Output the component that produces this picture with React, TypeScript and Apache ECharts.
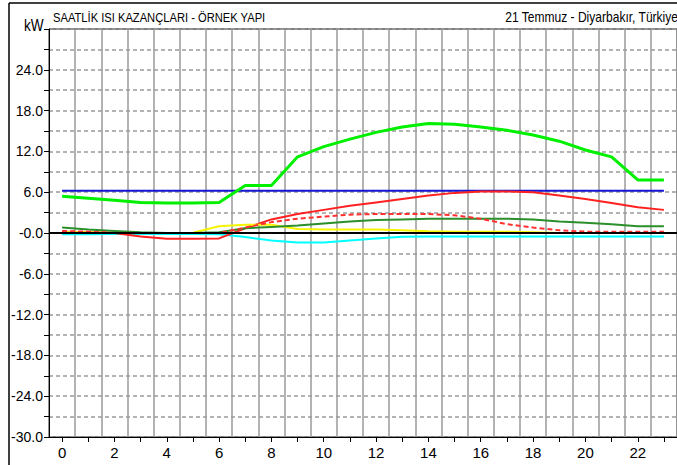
import { useEffect, useRef } from 'react';
import * as echarts from 'echarts';

const hours = ['0', '1', '2', '3', '4', '5', '6', '7', '8', '9', '10', '11', '12', '13', '14', '15', '16', '17', '18', '19', '20', '21', '22', '23'];

const seriesLime = [5.4, 5.1, 4.8, 4.5, 4.4, 4.4, 4.5, 7.0, 7.0, 11.2, 12.7, 13.8, 14.8, 15.6, 16.1, 16.0, 15.6, 15.1, 14.4, 13.5, 12.2, 11.2, 7.8, 7.8];
const seriesBlue = [6.2, 6.2, 6.2, 6.2, 6.2, 6.2, 6.2, 6.2, 6.2, 6.2, 6.2, 6.2, 6.2, 6.2, 6.2, 6.2, 6.2, 6.2, 6.2, 6.2, 6.2, 6.2, 6.2, 6.2];
const seriesRed = [0.2, 0.1, 0.0, -0.5, -0.85, -0.85, -0.8, 0.7, 2.0, 2.8, 3.4, 4.0, 4.5, 5.0, 5.5, 5.9, 6.1, 6.1, 6.0, 5.5, 5.0, 4.4, 3.8, 3.4];
const seriesRedDashed = [0.3, 0.2, 0.0, 0.0, 0.0, 0.0, 0.0, 0.8, 1.6, 2.1, 2.4, 2.7, 2.8, 2.8, 2.8, 2.6, 2.1, 1.3, 0.8, 0.4, 0.2, 0.2, 0.2, 0.2];
const seriesDarkGreen = [0.8, 0.5, 0.3, 0.1, 0.0, 0.0, 0.1, 0.7, 0.9, 1.1, 1.4, 1.7, 1.9, 2.0, 2.1, 2.1, 2.1, 2.1, 2.0, 1.7, 1.5, 1.3, 1.0, 1.0];
const seriesYellow = [0.15, 0.1, 0.0, 0.0, 0.0, 0.05, 1.0, 1.2, 1.2, 0.6, 0.5, 0.5, 0.5, 0.4, 0.25, 0.2, 0.2, 0.2, 0.1, 0.0, 0.0, 0.0, 0.0, 0.0];
const seriesCyan = [-0.2, -0.2, -0.15, -0.15, -0.15, -0.15, -0.2, -0.6, -1.1, -1.4, -1.4, -1.1, -0.8, -0.55, -0.5, -0.5, -0.5, -0.5, -0.5, -0.5, -0.5, -0.5, -0.5, -0.5];

const titleLeft = 'SAATLİK ISI KAZANÇLARI - ÖRNEK YAPI';
const titleRight = '21 Temmuz - Diyarbakır, Türkiye';
const unitLabel = 'kW';

const FONT = "'Liberation Sans', Arial, sans-serif";

function lineSeries(data: number[], color: string, width: number, dashed?: boolean) {
  return {
    type: 'line',
    data,
    symbol: 'none',
    smooth: false,
    silent: true,
    lineStyle: { color, width, type: dashed ? [5, 3] : 'solid' },
  };
}

export default function App() {
  const ref = useRef<HTMLDivElement>(null);
  useEffect(() => {
    if (!ref.current) return;
    const chart = echarts.init(ref.current, undefined, { renderer: 'svg' });
    chart.setOption({
      animation: false,
      backgroundColor: '#ffffff',
      grid: {
        left: 49,
        top: 29,
        width: 631,
        height: 408,
        show: true,
        borderColor: '#000',
        borderWidth: 1,
        backgroundColor: '#ffffff',
      },
      xAxis: {
        type: 'category',
        data: hours,
        boundaryGap: true,
        axisLine: { onZero: false, lineStyle: { color: '#000', width: 1 } },
        axisTick: { show: true, interval: 0, alignWithLabel: true, length: 5, lineStyle: { color: '#000' } },
        axisLabel: { interval: 1, color: '#000', fontFamily: FONT, fontSize: 15, margin: 8 },
        splitLine: { show: true, interval: 0, lineStyle: { color: '#9a9a9a', width: 1.5 } },
      },
      yAxis: {
        type: 'value',
        min: -30,
        max: 30,
        interval: 3,
        axisLine: { show: true, lineStyle: { color: '#000', width: 1 } },
        axisTick: { show: true, length: 5, lineStyle: { color: '#000' } },
        axisLabel: {
          color: '#000',
          fontFamily: FONT,
          fontSize: 14,
          margin: 6,
          formatter: (v: number) => {
            if (v === 30 || Math.abs(v) % 6 !== 0) return '';
            if (v === 0) return '-0.0';
            return v.toFixed(1);
          },
        },
        splitLine: { show: true, lineStyle: { color: '#9a9a9a', width: 1.5, type: [4, 3] } },
      },
      graphic: [
        { type: 'line', shape: { x1: 9, y1: 3, x2: 677, y2: 3 }, style: { stroke: '#000', lineWidth: 1.5 } },
        { type: 'line', shape: { x1: 9, y1: 3, x2: 9, y2: 465 }, style: { stroke: '#000', lineWidth: 1.5 } },
        { type: 'text', x: 53, y: 18, scaleX: 0.86, style: { text: titleLeft, font: `13px ${FONT}`, fill: '#000', verticalAlign: 'middle' } },
        { type: 'text', x: 678, y: 17, scaleX: 0.86, style: { text: titleRight, font: `14px ${FONT}`, fill: '#000', verticalAlign: 'middle', align: 'right' } },
        { type: 'text', x: 24, y: 25, scaleX: 0.8, style: { text: unitLabel, font: `17px ${FONT}`, fill: '#000', verticalAlign: 'middle' } },
      ],
      series: [
        lineSeries(seriesBlue, '#1414d2', 2),
        lineSeries(seriesCyan, '#00ffff', 2),
        lineSeries(seriesRed, '#ff2020', 2),
        {
          type: 'line',
          data: [],
          silent: true,
          markLine: {
            silent: true,
            symbol: 'none',
            label: { show: false },
            lineStyle: { color: '#000', width: 2, type: 'solid' },
            data: [{ yAxis: 0 }],
          },
        },
        lineSeries(seriesYellow, '#f5f500', 2),
        lineSeries(seriesDarkGreen, '#2b8f2b', 2),
        lineSeries(seriesRedDashed, '#ff3030', 2, true),
        lineSeries(seriesLime, '#00f000', 3),
      ],
    });
    return () => chart.dispose();
  }, []);
  return <div ref={ref} style={{ position: 'absolute', left: 0, top: 0, width: 677, height: 465 }} />;
}
